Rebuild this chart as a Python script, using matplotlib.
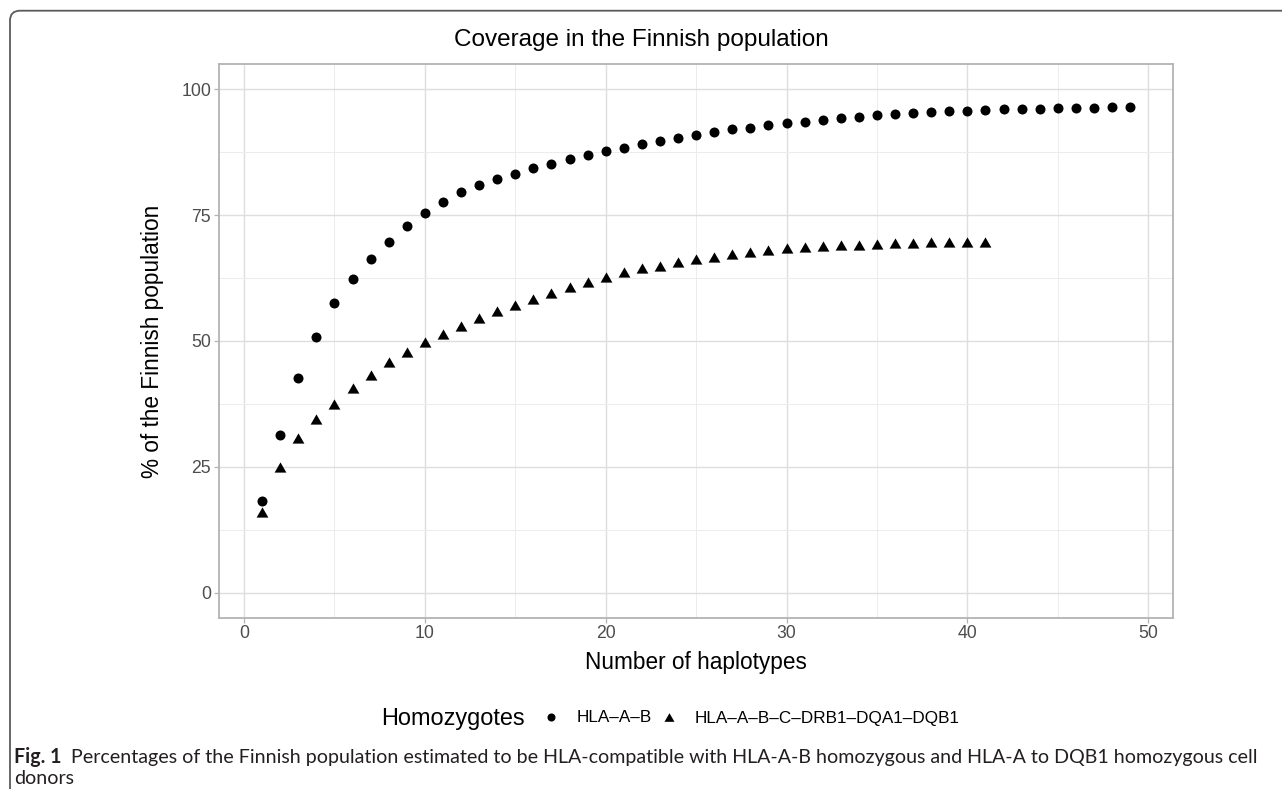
import numpy as np
import matplotlib
import matplotlib.pyplot as plt
from matplotlib.lines import Line2D
from matplotlib.patches import FancyBboxPatch
from matplotlib.transforms import IdentityTransform

matplotlib.use('Agg')
plt.rcParams['font.family'] = ['Liberation Sans', 'DejaVu Sans']

# number of haplotypes and cumulative coverage (%)
n_ab = np.arange(1, 50)
cov_ab = [18.1, 31.2, 42.6, 50.8, 57.6, 62.2, 66.2, 69.7, 72.8, 75.3,
          77.5, 79.6, 80.9, 82.1, 83.1, 84.3, 85.2, 86.2, 86.9, 87.8,
          88.4, 89.1, 89.7, 90.3, 90.9, 91.5, 92.0, 92.3, 92.9, 93.2,
          93.5, 93.9, 94.2, 94.5, 94.9, 95.0, 95.3, 95.5, 95.6, 95.7,
          95.8, 96.0, 96.0, 96.1, 96.2, 96.3, 96.3, 96.5, 96.5]

n_all = np.arange(1, 42)
cov_all = [16.0, 24.9, 30.7, 34.4, 37.5, 40.6, 43.3, 45.8, 47.8, 49.7,
           51.4, 53.0, 54.6, 56.0, 57.2, 58.4, 59.6, 60.7, 61.7, 62.6,
           63.6, 64.4, 64.9, 65.6, 66.2, 66.7, 67.3, 67.7, 68.1, 68.4,
           68.6, 68.8, 69.0, 69.1, 69.3, 69.4, 69.5, 69.6, 69.6, 69.7,
           69.7]

labels = ['HLA–A–B', 'HLA–A–B–C–DRB1–DQA1–DQB1']
xticks = [0, 10, 20, 30, 40, 50]
yticks = [0, 25, 50, 75, 100]

tri = [(0, 0.866), (-1, -0.866), (1, -0.866)]  # equilateral triangle

W, H = 1282, 789
fig = plt.figure(figsize=(W / 100, H / 100), dpi=100)
ax = fig.add_axes([218.7 / W, 1 - 617.7 / H, (1173.5 - 218.7) / W, (617.7 - 64) / H])

ax.plot(n_ab, cov_ab, ls='none', marker='o', ms=7.2, color='black', mec='none')
ax.plot(n_all, cov_all, ls='none', marker=tri, ms=8.5, color='black', mec='none')

ax.set_xlim(-1.4, 51.4)
ax.set_ylim(-5, 105)
ax.set_xticks(xticks)
ax.set_yticks(yticks)
ax.set_xticks(np.arange(5, 50, 10), minor=True)
ax.set_yticks(np.arange(12.5, 100, 25), minor=True)
ax.grid(which='major', color='#dedede', lw=1.0)
ax.grid(which='minor', color='#ececec', lw=0.7)
ax.set_axisbelow(True)
ax.tick_params(which='major', length=3.5, width=0.9, color='#b3b3b3',
               labelsize=12.7, labelcolor='#4d4d4d', pad=2)
ax.tick_params(which='minor', length=0)
for s in ax.spines.values():
    s.set_color('#b3b3b3')
    s.set_linewidth(1.3)

fig.text(641.5 / W, 1 - 40 / H, 'Coverage in the Finnish population',
         ha='center', va='center', fontsize=17.5)
fig.text(696 / W, 1 - 663 / H, 'Number of haplotypes',
         ha='center', va='center', fontsize=16.3)
fig.text(153 / W, 1 - 341 / H, '% of the Finnish population',
         ha='center', va='center', rotation=90, fontsize=16.3)

# legend
leg_y = 1 - 718 / H
fig.text(381 / W, leg_y, 'Homozygotes', ha='left', va='center', fontsize=16.9)
handles = [Line2D([], [], ls='none', marker='o', ms=5.8, color='black', mec='none'),
           Line2D([], [], ls='none', marker=tri, ms=7.2, color='black', mec='none')]
fig.legend(handles, labels, ncol=2, loc='center left', bbox_to_anchor=(542 / W, leg_y),
           frameon=False, fontsize=12.3, handlelength=1.0, handletextpad=1.0,
           columnspacing=0.55, borderpad=0, borderaxespad=0)

# caption
cap_col = '#231f20'
cap_fs = 14.1
fig.text(14 / W, 1 - 757 / H, 'Fig. 1', ha='left', va='center', fontsize=cap_fs,
         fontweight='bold', color=cap_col, family='Lato')
fig.text(71 / W, 1 - 757 / H,
         'Percentages of the Finnish population estimated to be HLA-compatible with '
         'HLA-A-B homozygous and HLA-A to DQB1 homozygous cell',
         ha='left', va='center', fontsize=cap_fs, color=cap_col, family='Lato')
fig.text(14 / W, 1 - 779 / H, 'donors', ha='left', va='center', fontsize=cap_fs,
         color=cap_col, family='Lato')

# outer frame, only top-left corner visible
frame = FancyBboxPatch((10, -30), 1400, H - 10.7 + 30,
                       boxstyle='round,pad=0,rounding_size=10',
                       transform=IdentityTransform(), fill=False,
                       ec='#5a5a5a', lw=1.3)
fig.patches.append(frame)

fig.savefig('out.png', dpi=100)
